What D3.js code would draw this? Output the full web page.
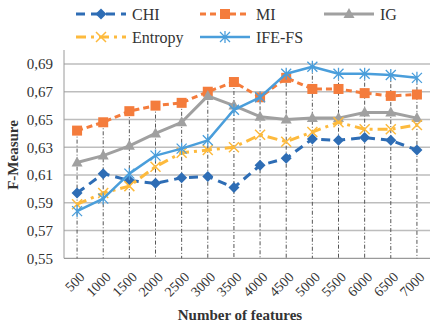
<!DOCTYPE html>
<html><head><meta charset="utf-8">
<script src="https://cdn.jsdelivr.net/npm/d3@7"></script>
<style>body{margin:0;background:#fff}svg{display:block}</style>
</head><body><svg id="c" width="430" height="324"></svg>
<script>
const categories = ["500","1000","1500","2000","2500","3000","3500","4000","4500","5000","5500","6000","6500","7000"];
const CHI = [0.597,0.611,0.606,0.604,0.608,0.609,0.601,0.617,0.622,0.636,0.635,0.637,0.635,0.628];
const MI = [0.642,0.648,0.656,0.660,0.662,0.670,0.677,0.666,0.680,0.672,0.672,0.669,0.667,0.668];
const IG = [0.619,0.624,0.631,0.640,0.648,0.667,0.660,0.652,0.650,0.651,0.651,0.655,0.655,0.651];
const Entropy = [0.589,0.597,0.602,0.616,0.626,0.628,0.630,0.639,0.634,0.641,0.648,0.643,0.643,0.646];
const IFEFS = [0.584,0.593,0.611,0.624,0.629,0.635,0.657,0.666,0.683,0.688,0.683,0.683,0.682,0.680];
const yTicks = [0.55,0.57,0.59,0.61,0.63,0.65,0.67,0.69];
const seriesNames = ["CHI","MI","IG","Entropy","IFE-FS"];

const FONT = '"Liberation Serif"';
const series = [
  {name:"CHI", values:CHI, color:"#2E6DB5", dash:"9,6", width:3, marker:"diamond"},
  {name:"MI", values:MI, color:"#F47C3C", dash:"6,4", width:3, marker:"square"},
  {name:"IG", values:IG, color:"#A0A0A0", dash:null, width:3, marker:"triangle"},
  {name:"Entropy", values:Entropy, color:"#FDBA3D", dash:"10,5,3,5", width:3, marker:"x"},
  {name:"IFE-FS", values:IFEFS, color:"#4A9EDB", dash:null, width:2.5, marker:"star"}
];

const svg = d3.select("#c");
const L=64, R=430, T=50, B=258.3;
const x = d3.scaleBand().domain(categories).range([L,R]);
const y = d3.scaleLinear().domain([0.55,0.70]).range([B, B-(0.15/0.02)*27.76]);
const cx = d => x(d)+x.bandwidth()/2;

// gridlines
svg.append("g").selectAll("line").data(yTicks.slice(1)).join("line")
  .attr("x1",L).attr("x2",R).attr("y1",d=>y(d)).attr("y2",d=>y(d))
  .attr("stroke","#BDBDBD").attr("stroke-width",1.5);

// axes lines
svg.append("line").attr("x1",L).attr("x2",L).attr("y1",T).attr("y2",B).attr("stroke","#9A9A9A").attr("stroke-width",1);
svg.append("line").attr("x1",L).attr("x2",R).attr("y1",B).attr("y2",B).attr("stroke","#9A9A9A").attr("stroke-width",1.2);

// drop lines
svg.append("g").selectAll("line").data(categories).join("line")
  .attr("x1",d=>cx(d)).attr("x2",d=>cx(d))
  .attr("y1",(d,i)=>y(d3.max(series,s=>s.values[i])))
  .attr("y2",B)
  .attr("stroke","#555").attr("stroke-width",1).attr("stroke-dasharray","4,2,1,2");

// y tick labels
const yAxis = d3.axisLeft(y).tickValues(yTicks).tickSize(0).tickPadding(0)
  .tickFormat(d=>d3.format(".2f")(d).replace(".",","));
const ya = svg.append("g").attr("transform",`translate(${L-11},0)`).call(yAxis);
ya.select(".domain").remove();
ya.selectAll("text").style("font-family",FONT).attr("font-size",15).attr("fill","#333").attr("dy","0.32em");

// x tick labels
const xAxis = d3.axisBottom(x).tickSize(0).tickPadding(0);
const xa = svg.append("g").attr("transform",`translate(0,${B})`).call(xAxis);
xa.select(".domain").remove();
xa.selectAll("text").style("font-family",FONT).attr("font-size",14).attr("fill","#333")
  .attr("text-anchor","end").attr("dy","0.35em")
  .attr("transform","translate(5,16) rotate(-45)");

// titles
svg.append("text").style("font-family",FONT).attr("x",240).attr("y",320).attr("text-anchor","middle").attr("font-size",15).attr("font-weight","bold").attr("fill","#333").text("Number of features");
svg.append("text").style("font-family",FONT).attr("transform","translate(18,155) rotate(-90)").attr("text-anchor","middle").attr("font-size",15).attr("font-weight","bold").attr("fill","#333").text("F-Measure");

function marker(g, type, color){
  if(type==="diamond") g.append("path").attr("d","M0,-5.5L5.5,0L0,5.5L-5.5,0Z").attr("fill",color);
  else if(type==="square") g.append("rect").attr("x",-5).attr("y",-5).attr("width",10).attr("height",10).attr("fill",color);
  else if(type==="triangle") g.append("path").attr("d","M0,-6L5.5,4L-5.5,4Z").attr("fill",color);
  else if(type==="x") g.append("path").attr("d","M-5,-5L5,5M5,-5L-5,5").attr("stroke",color).attr("stroke-width",1.5).attr("fill","none");
  else if(type==="star") g.append("path").attr("d","M-5,-5L5,5M5,-5L-5,5M0,-6L0,6").attr("stroke",color).attr("stroke-width",1.3).attr("fill","none");
}

const line = d3.line().x((d,i)=>cx(categories[i])).y(d=>y(d));
series.forEach(s=>{
  svg.append("path").datum(s.values).attr("d",line).attr("fill","none")
    .attr("stroke",s.color).attr("stroke-width",s.width)
    .attr("stroke-dasharray",s.dash).attr("stroke-linejoin","round");
  s.values.forEach((v,i)=>{
    const g = svg.append("g").attr("transform",`translate(${cx(categories[i])},${y(v)})`);
    marker(g,s.marker,s.color);
  });
});

// legend
const legPos = [[76,14],[200,14],[324,14],[76,37],[200,37]];
series.forEach((s,i)=>{
  const [lx,ly]=legPos[i];
  svg.append("line").attr("x1",lx).attr("x2",lx+50).attr("y1",ly).attr("y2",ly)
    .attr("stroke",s.color).attr("stroke-width",s.width).attr("stroke-dasharray",s.dash);
  const g = svg.append("g").attr("transform",`translate(${lx+25},${ly})`);
  marker(g,s.marker,s.color);
  svg.append("text").style("font-family",FONT).attr("x",lx+56).attr("y",ly).attr("dy","0.35em").attr("font-size",16).attr("fill","#333").text(seriesNames[i]);
});
</script></body></html>
